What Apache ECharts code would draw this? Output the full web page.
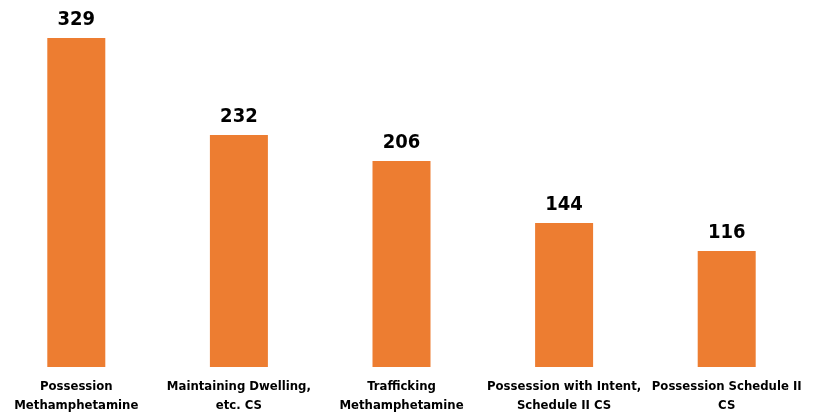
<!DOCTYPE html>
<html>
<head>
<meta charset="utf-8">
<script src="https://cdn.jsdelivr.net/npm/echarts@6/dist/echarts.min.js"></script>
<style>
  html, body { margin: 0; padding: 0; background: #fff; }
  #chart { width: 817px; height: 417px; }
</style>
</head>
<body>
<div id="chart"></div>
<script>
const categories = [
  "Possession\nMethamphetamine",
  "Maintaining Dwelling,\netc. CS",
  "Trafficking\nMethamphetamine",
  "Possession with Intent,\nSchedule II CS",
  "Possession Schedule II\nCS"
]
const counts = [329, 232, 206, 144, 116]

const font = "'Liberation Sans Narrow', 'DejaVu Sans Condensed', 'Roboto', sans-serif"

let myChart = echarts.init(document.getElementById("chart"))
myChart.setOption({
  animation: false,
  grid: {
    left: -5,
    right: 9,
    top: 17,
    bottom: 50,
    containLabel: false,
    outerBoundsMode: "none"
  },
  xAxis: {
    type: "category",
    data: categories,
    axisLine: { show: false },
    axisTick: { show: false },
    axisLabel: {
      interval: 0,
      margin: 10,
      color: "#000",
      fontWeight: "bold",
      fontSize: 13,
      lineHeight: 19,
      fontFamily: font
    }
  },
  yAxis: {
    type: "value",
    min: 0,
    max: 350,
    show: false
  },
  series: [{
    type: "bar",
    data: counts,
    barWidth: 58,
    itemStyle: { color: "#ED7D31" },
    label: {
      show: true,
      position: "top",
      distance: 8,
      color: "#000",
      fontWeight: "bold",
      fontSize: 20,
      fontFamily: font
    }
  }]
})
</script>
</body>
</html>
